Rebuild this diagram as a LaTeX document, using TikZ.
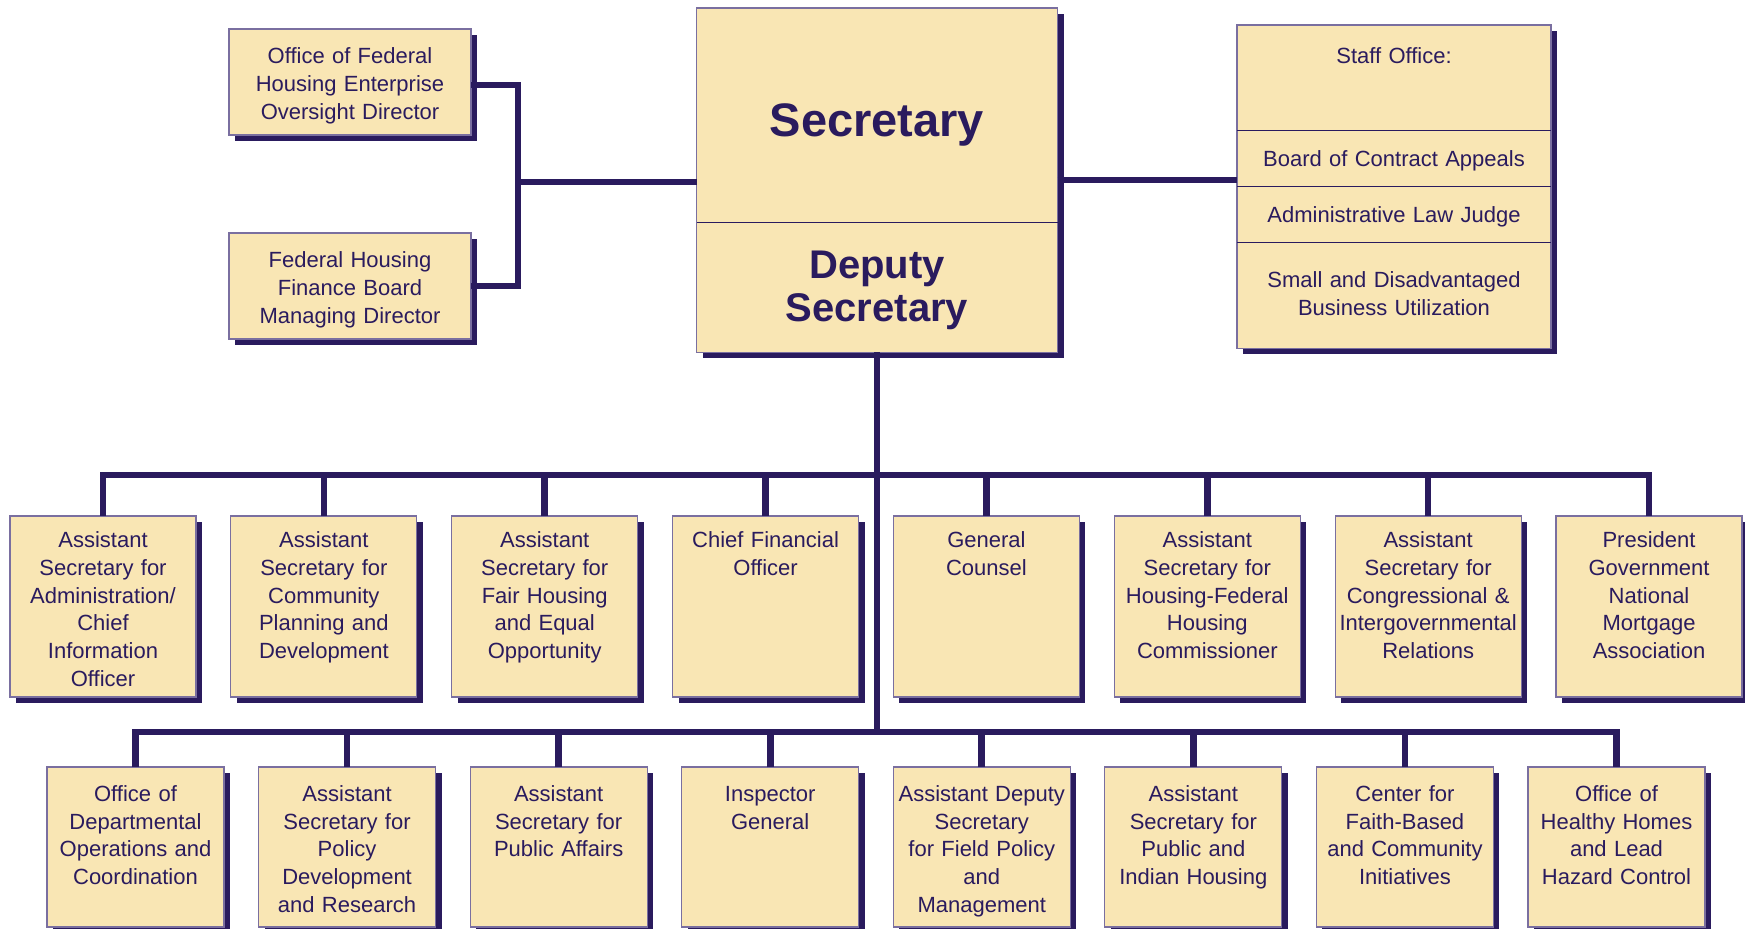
\documentclass[tikz,border=0pt]{standalone}
\usepackage{fontspec}
\setmainfont{Liberation Sans}
\usetikzlibrary{positioning,shadows}
\definecolor{hudnavy}{HTML}{2A1B5E}
\definecolor{hudcream}{HTML}{F9E6B4}
\definecolor{hudedge}{HTML}{7A6FA0}
\newcommand\unitfont{\fontsize{11}{13.85}\selectfont}
\tikzset{
  link/.style={draw=hudnavy,line width=3.3pt},
  rule/.style={draw=hudnavy,line width=0.7pt},
  boxshadow/.style={drop shadow={shadow xshift=3pt,shadow yshift=-3pt,fill=hudnavy,opacity=1}},
  office/.style={rectangle,draw=hudedge,line width=0.6pt,fill=hudcream,text=hudnavy,align=center,
                 font=\unitfont,inner sep=0pt,outer sep=0pt,boxshadow},
  % the two rows hang their text from the top edge
  upper/.style={office,anchor=north,text width=93pt,text height=15.9pt,text depth=74.6pt},
  lower/.style={office,anchor=north,text width=88.5pt,text height=17.2pt,text depth=62.8pt},
  side/.style={office,text width=121pt,text height=17.5pt,text depth=35.5pt},
  staff/.style={office,text width=157pt,text height=18pt,text depth=10.3pt},
  head/.style={office,text width=180.5pt},
}

\begin{document}
\begin{tikzpicture}[x=0.5pt,y=-0.5pt]
  \useasboundingbox (0,0) rectangle (1745,929);
  % Secretary over deputy
  \node[head,anchor=north,text height=64.4pt,text depth=43.1pt,
        font=\fontsize{23.5}{26}\selectfont\bfseries] (sec) at (877,8) {Secretary};
  \node[head,below=-0.3pt of sec,text height=28pt,text depth=37pt,
        font=\fontsize{20}{21.5}\selectfont\bfseries] (dep) {Deputy\\Secretary};
  \draw[rule] (dep.north west) -- (dep.north east);
  % staff offices, stacked
  \node[staff,anchor=north,text height=19.4pt,text depth=33.6pt] (stf) at (1394,25) {Staff Office:};
  \node[staff,below=-0.3pt of stf] (bca) {Board of Contract Appeals};
  \node[staff,below=-0.3pt of bca] (alj) {Administrative Law Judge};
  \node[staff,below=-0.3pt of alj,text height=22.5pt,text depth=30.5pt] (sdb) {Small and Disadvantaged\\Business Utilization};
  \foreach \n in {bca,alj,sdb} { \draw[rule] (\n.north west) -- (\n.north east); }
  % boards off to the left
  \node[side,anchor=north] (ofheo) at (350,29) {Office of Federal\\Housing Enterprise\\Oversight Director};
  \node[side,anchor=north] (fhfb) at (350,233) {Federal Housing\\Finance Board\\Managing Director};
  % first row of assistant secretaries
  \foreach \txt [count=\i] in {
      {Assistant\\Secretary for\\Administration/\\Chief\\Information\\Officer},
      {Assistant\\Secretary for\\Community\\Planning and\\Development},
      {Assistant\\Secretary for\\Fair Housing\\and Equal\\Opportunity},
      {Chief Financial\\Officer},
      {General\\Counsel},
      {Assistant\\Secretary for\\Housing-Federal\\Housing\\Commissioner},
      {Assistant\\Secretary for\\Congressional \&\\Intergovernmental\\Relations},
      {President\\Government\\National\\Mortgage\\Association}}
    \node[upper] (as\i) at ({103+220.86*(\i-1)},516) {\txt};
  % second row
  \foreach \txt [count=\i] in {
      {Office of\\Departmental\\Operations and\\Coordination},
      {Assistant\\Secretary for\\Policy\\Development\\and Research},
      {Assistant\\Secretary for\\Public Affairs},
      {Inspector\\General},
      {Assistant Deputy\\Secretary\\for Field Policy\\and\\Management},
      {Assistant\\Secretary for\\Public and\\Indian Housing},
      {Center for\\Faith-Based\\and Community\\Initiatives},
      {Office of\\Healthy Homes\\and Lead\\Hazard Control}}
    \node[lower] (ld\i) at ({135.5+211.57*(\i-1)},767) {\txt};
  % connectors
  \coordinate (fork) at (518,182);
  \coordinate (staffline) at (1150,180);
  \coordinate (busA) at (876,475);
  \coordinate (busB) at (876,732);
  \draw[link] ([yshift=-1.5pt]ofheo.east) -| (fork) |- (fhfb.east);
  \draw[link] (fork) -- (fork -| sec.west);
  \draw[link] (staffline -| sec.east) -- (staffline -| bca.west);
  \draw[link] (dep.south) -- (dep.south |- busB);
  \draw[link] (as1.north) |- (busA) -| (as8.north);
  \foreach \i in {2,...,7} { \draw[link] (as\i.north) -- (as\i.north |- busA); }
  \draw[link] (ld1.north) |- (busB) -| (ld8.north);
  \foreach \i in {2,...,7} { \draw[link] (ld\i.north) -- (ld\i.north |- busB); }
\end{tikzpicture}
\end{document}
